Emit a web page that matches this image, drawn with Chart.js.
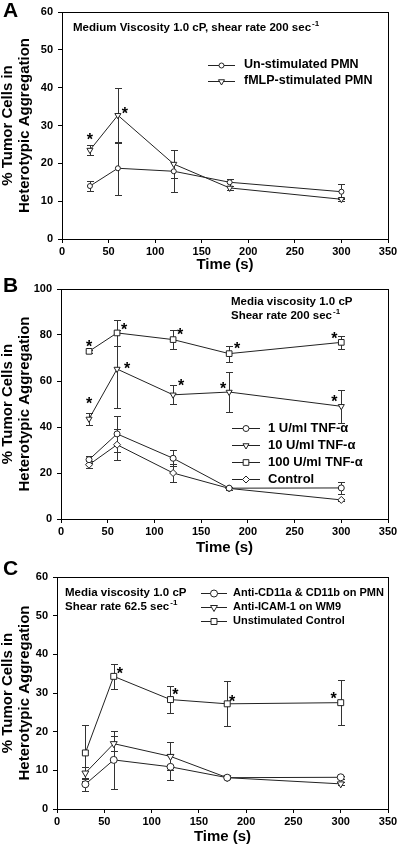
<!DOCTYPE html>
<html>
<head>
<meta charset="utf-8">
<script src="https://cdn.jsdelivr.net/npm/chart.js@4.4.1/dist/chart.umd.min.js"></script>
<style>
  body { margin: 0; background: #fff; }
  canvas { position: absolute; left: 0; }
</style>
</head>
<body>
<canvas id="chart-a" width="400" height="274" style="top:0"></canvas>
<canvas id="chart-b" width="400" height="286" style="top:274px"></canvas>
<canvas id="chart-c" width="400" height="286" style="top:560px"></canvas>
<script>
const FONT = '"Liberation Sans", Arial, sans-serif';

// time points (s)
const times = [30, 60, 120, 180, 300];

// panel A
const unstimA = [14.0, 18.7, 17.9, 15.0, 12.5];
const unstimErrA = [1.3, 7.0, 5.6, 0.9, 2.0];
const fmlpA = [23.5, 32.7, 19.8, 13.5, 10.5];
const fmlpErrA = [1.4, 7.2, 3.7, 0.6, 0.4];

// panel B
const tnf1B = [25.8, 37.0, 26.4, 13.4, 13.5];
const tnf1ErrB = [1.5, 8.0, 3.5, 0.6, 2.8];
const tnf10B = [43.5, 65.2, 54.0, 55.2, 49.0];
const tnf10ErrB = [2.5, 17.0, 4.2, 8.5, 7.2];
const tnf100B = [72.9, 80.9, 78.0, 71.9, 76.8];
const tnf100ErrB = [0.7, 5.5, 4.0, 3.5, 2.8];
const controlB = [23.6, 32.3, 20.0, 13.3, 8.3];
const controlErrB = [1.5, 6.8, 3.9, 0.5, 0.5];

// panel C
const cd11C = [6.4, 12.7, 10.9, 8.1, 8.2];
const cd11ErrC = [1.7, 7.6, 3.3, 0.4, 0.4];
const icamC = [9.3, 16.9, 13.6, 8.1, 6.5];
const icamErrC = [1.6, 2.0, 3.6, 0.4, 0.4];
const ctrlC = [14.5, 34.3, 28.3, 27.2, 27.5];
const ctrlErrC = [7.3, 3.2, 3.4, 5.8, 5.9];

// significance stars: [dataset, point, dx, dy]
const starsA = [[1, 0, 0, -14], [1, 1, 7, -5]];
const starsB = [
    [2, 0, 0, -8], [2, 1, 7, -6], [2, 2, 7, -8], [2, 3, 8, -8], [2, 4, -7, -7],
    [1, 0, 0, -18], [1, 1, 10, -4], [1, 2, 8, -12], [1, 3, -6, -7], [1, 4, -7, -8]
];
const starsC = [[2, 1, 6, -6], [2, 2, 5, -8], [2, 3, 5, -5], [2, 4, -7, -7]];

Chart.defaults.font.family = FONT;
Chart.defaults.color = '#000';

function series(label, values, errors, style, radius, rotation) {
    return {
        label: label,
        data: times.map((t, i) => ({ x: t, y: values[i] })),
        errors: errors,
        borderColor: '#222',
        borderWidth: 1,
        pointStyle: style,
        pointRotation: rotation || 0,
        pointRadius: radius,
        pointBorderWidth: 1,
        pointBackgroundColor: '#fff',
        pointBorderColor: '#222',
        tension: 0
    };
}

function drawText(ctx, parts, x, y, size) {
    // parts: [main, superscript]
    ctx.font = 'bold ' + size + 'px ' + FONT;
    ctx.textBaseline = 'middle';
    ctx.textAlign = 'left';
    ctx.fillText(parts[0], x, y);
    if (parts[1]) {
        const w = ctx.measureText(parts[0]).width;
        ctx.font = 'bold ' + Math.round(size * 0.7) + 'px ' + FONT;
        ctx.fillText(parts[1], x + w + 1, y - size * 0.4);
    }
}

const extras = {
    id: 'extras',
    beforeDatasetsDraw(chart, args, opts) {
        const ctx = chart.ctx;
        const xs = chart.scales.x, ys = chart.scales.y;
        ctx.save();
        ctx.lineWidth = 1;
        ctx.strokeStyle = '#333';
        chart.data.datasets.forEach(ds => {
            ds.data.forEach((p, i) => {
                const e = ds.errors[i];
                const px = Math.round(xs.getPixelForValue(p.x)) + 0.5;
                const top = Math.round(ys.getPixelForValue(p.y + e)) + 0.5;
                const bot = Math.round(ys.getPixelForValue(p.y - e)) + 0.5;
                ctx.beginPath();
                ctx.moveTo(px, top); ctx.lineTo(px, bot);
                ctx.moveTo(px - opts.cap, top); ctx.lineTo(px + opts.cap, top);
                ctx.moveTo(px - opts.cap, bot); ctx.lineTo(px + opts.cap, bot);
                ctx.stroke();
            });
        });
        ctx.restore();
    },
    afterDraw(chart, args, opts) {
        const ctx = chart.ctx;
        const a = chart.chartArea;
        ctx.save();
        // frame
        ctx.strokeStyle = '#000';
        ctx.lineWidth = 1;
        ctx.strokeRect(Math.round(a.left) + 0.5, Math.round(a.top) + 0.5,
            Math.round(a.right - a.left), Math.round(a.bottom - a.top));

        // panel letter
        ctx.fillStyle = '#000';
        ctx.font = 'bold 21px ' + FONT;
        ctx.textBaseline = 'alphabetic';
        ctx.textAlign = 'left';
        ctx.fillText(opts.letter.text, opts.letter.x, opts.letter.y);

        // stars
        ctx.font = 'bold 16px ' + FONT;
        const m = ctx.measureText('*');
        const mid = (m.actualBoundingBoxAscent - m.actualBoundingBoxDescent) / 2;
        ctx.textAlign = 'center';
        opts.stars.forEach(s => {
            const el = chart.getDatasetMeta(s[0]).data[s[1]];
            ctx.fillText('*', el.x + s[2], el.y + s[3] + mid);
        });

        // notes
        opts.notes.lines.forEach((ln, i) => {
            drawText(ctx, ln, opts.notes.x, opts.notes.y + i * opts.notes.gap, opts.notes.size);
        });

        // legend
        const lg = opts.legend;
        chart.data.datasets.forEach((ds, i) => {
            const y = lg.y + i * lg.gap;
            ctx.strokeStyle = '#222';
            ctx.lineWidth = 1;
            ctx.beginPath();
            ctx.moveTo(lg.x, Math.round(y) + 0.5);
            ctx.lineTo(lg.x + lg.len, Math.round(y) + 0.5);
            ctx.stroke();
            ctx.fillStyle = '#fff';
            Chart.helpers.drawPoint(ctx, {
                pointStyle: ds.pointStyle, radius: ds.pointRadius,
                rotation: ds.pointRotation, borderWidth: 1
            }, lg.x + lg.len / 2, y + 0.5);
            ctx.fillStyle = '#000';
            drawText(ctx, [ds.label], lg.x + lg.len + lg.pad, y, lg.size);
        });
        ctx.restore();
    }
};

function makeChart(id, datasets, yMax, yStep, box, plug) {
    return new Chart(document.getElementById(id).getContext('2d'), {
        type: 'line',
        data: { datasets: datasets },
        options: {
            responsive: false,
            devicePixelRatio: 1,
            animation: false,
            layout: { padding: { top: box.top, right: box.right, left: 0, bottom: 0 } },
            plugins: { legend: { display: false }, tooltip: { enabled: false }, extras: plug },
            scales: {
                x: {
                    type: 'linear', min: 0, max: 350,
                    afterFit: s => { s.height = box.xh; },
                    ticks: { stepSize: 50, font: { size: 11, weight: 'bold' }, padding: 2, maxRotation: 0 },
                    grid: { drawOnChartArea: false, tickLength: 4, color: '#000' },
                    border: { color: '#000' },
                    title: { display: true, text: 'Time (s)', font: { size: 15, weight: 'bold' }, padding: { top: 0, bottom: box.tb } }
                },
                y: {
                    min: 0, max: yMax,
                    afterFit: s => { s.width = box.yw; },
                    ticks: { stepSize: yStep, font: { size: 11, weight: 'bold' }, padding: 5 },
                    grid: { drawOnChartArea: false, tickLength: 4, color: '#000' },
                    border: { color: '#000' },
                    title: {
                        display: true,
                        text: ['% Tumor Cells in', 'Heterotypic Aggregation'],
                        font: { size: 15, weight: 'bold', lineHeight: 1.1 },
                        padding: { top: 0, bottom: 0 }
                    }
                }
            }
        },
        plugins: [extras]
    });
}

makeChart('chart-a', [
    series('Un-stimulated PMN', unstimA, unstimErrA, 'circle', 2.5),
    series('fMLP-stimulated PMN', fmlpA, fmlpErrA, 'triangle', 3.5, 180)
], 60, 10, { top: 12, right: 12, xh: 35, yw: 62, tb: 0 }, {
    cap: 3.5,
    letter: { text: 'A', x: 3, y: 17 },
    stars: starsA,
    notes: { x: 73, y: 28, gap: 14, size: 11.5, lines: [['Medium Viscosity 1.0 cP, shear rate 200 sec', '-1']] },
    legend: { x: 208, y: 65, gap: 16, len: 27, pad: 9, size: 12.5 }
});

makeChart('chart-b', [
    series('1 U/ml TNF-\u03b1', tnf1B, tnf1ErrB, 'circle', 3),
    series('10 U/ml TNF-\u03b1', tnf10B, tnf10ErrB, 'triangle', 3.5, 180),
    series('100 U/ml TNF-\u03b1', tnf100B, tnf100ErrB, 'rect', 4),
    series('Control', controlB, controlErrB, 'rectRot', 3.5)
], 100, 20, { top: 15, right: 12, xh: 41, yw: 61, tb: 3 }, {
    cap: 3.5,
    letter: { text: 'B', x: 3, y: 18 },
    stars: starsB,
    notes: { x: 231, y: 28, gap: 14, size: 11.5, lines: [['Media viscosity 1.0 cP'], ['Shear rate 200 sec', '-1']] },
    legend: { x: 232, y: 154, gap: 17, len: 28, pad: 8, size: 13 }
});

makeChart('chart-c', [
    series('Anti-CD11a & CD11b on PMN', cd11C, cd11ErrC, 'circle', 3.5),
    series('Anti-ICAM-1 on WM9', icamC, icamErrC, 'triangle', 4, 180),
    series('Unstimulated Control', ctrlC, ctrlErrC, 'rect', 4.2)
], 60, 10, { top: 17, right: 12, xh: 37, yw: 57, tb: 0 }, {
    cap: 3.5,
    letter: { text: 'C', x: 3, y: 15 },
    stars: starsC,
    notes: { x: 65, y: 33, gap: 14, size: 11.5, lines: [['Media viscosity 1.0 cP'], ['Shear rate 62.5 sec', '-1']] },
    legend: { x: 201, y: 33, gap: 14, len: 26, pad: 6, size: 11 }
});
</script>
</body>
</html>
